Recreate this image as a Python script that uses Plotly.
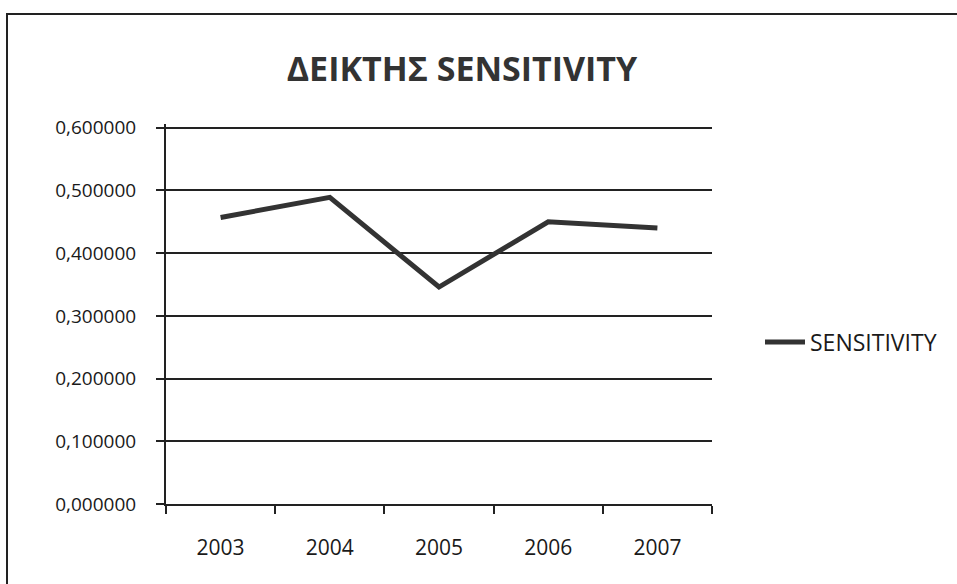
import plotly.graph_objects as go

years = ["2003", "2004", "2005", "2006", "2007"]
sensitivity = [0.457, 0.489, 0.346, 0.450, 0.440]
y_ticks = [0.0, 0.1, 0.2, 0.3, 0.4, 0.5, 0.6]
y_tick_labels = ["0,000000", "0,100000", "0,200000", "0,300000", "0,400000", "0,500000", "0,600000"]

L, R, T, B = 166, 245, 124, 80
W, H = 957, 584
pw = W - L - R
ph = H - T - B
y_max = 0.606

fig = go.Figure()
fig.add_trace(go.Scatter(
    x=years, y=sensitivity, mode="lines", name="SENSITIVITY",
    line=dict(color="#333333", width=5),
))

fig.update_layout(
    width=W, height=H,
    margin=dict(l=L, r=R, t=T, b=B),
    paper_bgcolor="white", plot_bgcolor="white",
    separators=",.",
    font=dict(family="Open Sans", color="#1a1a1a"),
    title=dict(text="<b>ΔΕΙΚΤΗΣ SENSITIVITY</b>", x=462 / W, xanchor="center",
               y=1 - 69 / H, yanchor="middle",
               font=dict(size=34, color="#333333", family="Open Sans")),
    showlegend=True,
    legend=dict(x=(760 - L) / pw, y=(H - B - 342) / ph, xanchor="left", yanchor="middle",
                font=dict(size=23, color="#1a1a1a"), bgcolor="rgba(0,0,0,0)",
                itemwidth=40),
    xaxis=dict(
        type="category", showgrid=False, showline=True, linecolor="#222222", linewidth=2,
        ticks="outside", tickson="boundaries", ticklen=8, tickwidth=2, tickcolor="#222222",
        tickfont=dict(size=21, color="#1a1a1a"), range=[-0.5, 4.5],
        ticklabelstandoff=24,
    ),
    yaxis=dict(
        range=[0, y_max], tickvals=y_ticks, ticktext=y_tick_labels,
        showgrid=True, gridcolor="#222222", gridwidth=2,
        showline=True, linecolor="#222222", linewidth=2,
        ticks="outside", ticklen=8, tickwidth=2, tickcolor="#222222",
        tickfont=dict(size=19, color="#1a1a1a"), zeroline=False,
        ticklabelstandoff=16,
    ),
)

# outer chart frame
fig.add_shape(type="rect", xref="paper", yref="paper",
              x0=(7 - L) / pw, x1=(975 - L) / pw,
              y0=(H - B - 600) / ph, y1=(H - B - 14) / ph,
              line=dict(color="#222222", width=2), fillcolor="rgba(0,0,0,0)", layer="below")

fig.write_html("out.html")
